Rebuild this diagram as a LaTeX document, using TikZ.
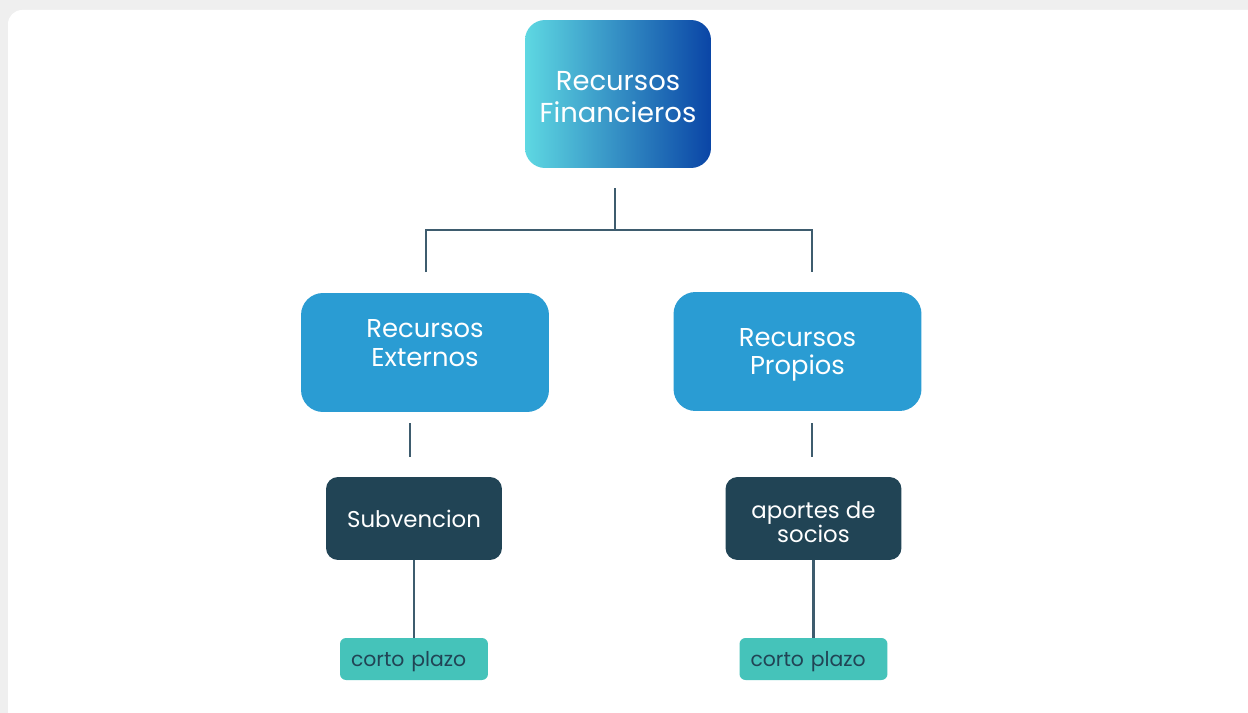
\documentclass[tikz,border=0pt]{standalone}
\usepackage{fontspec}
\setmainfont{Poppins}
\usetikzlibrary{positioning}

\definecolor{rootleft}{HTML}{5ED8E2}
\definecolor{rootright}{HTML}{0A45A6}
\definecolor{midblue}{HTML}{2A9CD3}
\definecolor{darkbox}{HTML}{214455}
\definecolor{tealbox}{HTML}{45C3BA}
\definecolor{linkcol}{HTML}{3E5C6E}
\definecolor{framecol}{HTML}{EFEFEF}

\tikzset{
  rootbox/.style={rounded corners=0.4cm, left color=rootleft, right color=rootright,
    minimum width=3.72cm, minimum height=2.96cm, text=white, align=center,
    font=\fontsize{15.6}{17.8}\selectfont},
  midbox/.style={rounded corners=0.44cm, fill=midblue, minimum width=4.96cm,
    minimum height=2.38cm, text=white, align=center, font=\fontsize{14.7}{16.4}\selectfont},
  darkbox/.style={rounded corners=0.24cm, fill=darkbox, minimum width=3.52cm,
    minimum height=1.66cm, text=white, align=center, font=\fontsize{13}{13.8}\selectfont},
  plazobox/.style={rounded corners=0.12cm, fill=tealbox, minimum height=0.84cm,
    text width=2.52cm, inner xsep=0.22cm, align=left, text=darkbox,
    text depth=0cm, font=\fontsize{11.6}{13}\selectfont},
  link/.style={draw=linkcol, line width=1.3pt}
}

\begin{document}
\begin{tikzpicture}[x=0.02cm, y=-0.02cm]
\useasboundingbox (0,0) rectangle (1248,713);
\fill[framecol] (0,0) rectangle (1248,713);
\fill[white, rounded corners=8] (8,10) rectangle (1270,730);

\node[rootbox, text height=1.13cm] (v1) at (618,94) {Recursos\\Financieros};
\node[midbox, text depth=0.38cm] (v2) at (425,352.5) {Recursos\\Externos};
\node[midbox, text depth=0cm] (v3) at (797.5,351.5) {Recursos\\Propios};
\node[darkbox] (v4) at (414,518.5) {Subvencion};
\node[darkbox, text height=0.98cm] (v5) at (813.5,518.5) {aportes de\\socios};
\node[plazobox] (v6) at (414,659) {corto plazo};
\node[plazobox] (v7) at (813.5,659) {corto plazo};

\coordinate (c1) at (615,188);
\coordinate (c2) at (615,230);
\coordinate (c3) at (426,230);
\coordinate (c4) at (812,230);
\coordinate (c5) at (426,272);
\coordinate (c6) at (812,272);
\coordinate (c7) at (410,423);
\coordinate (c8) at (410,457);
\coordinate (c9) at (812,423);
\coordinate (c10) at (812,457);

\draw[link] (c1) -- (c2);
\draw[link] (c5) -- (c3) -- (c4) -- (c6);
\draw[link] (c7) -- (c8);
\draw[link] (c9) -- (c10);
\draw[link] (v4.south) -- (v6.north);
\draw[link] (v5.south) -- (v7.north);
\end{tikzpicture}
\end{document}
